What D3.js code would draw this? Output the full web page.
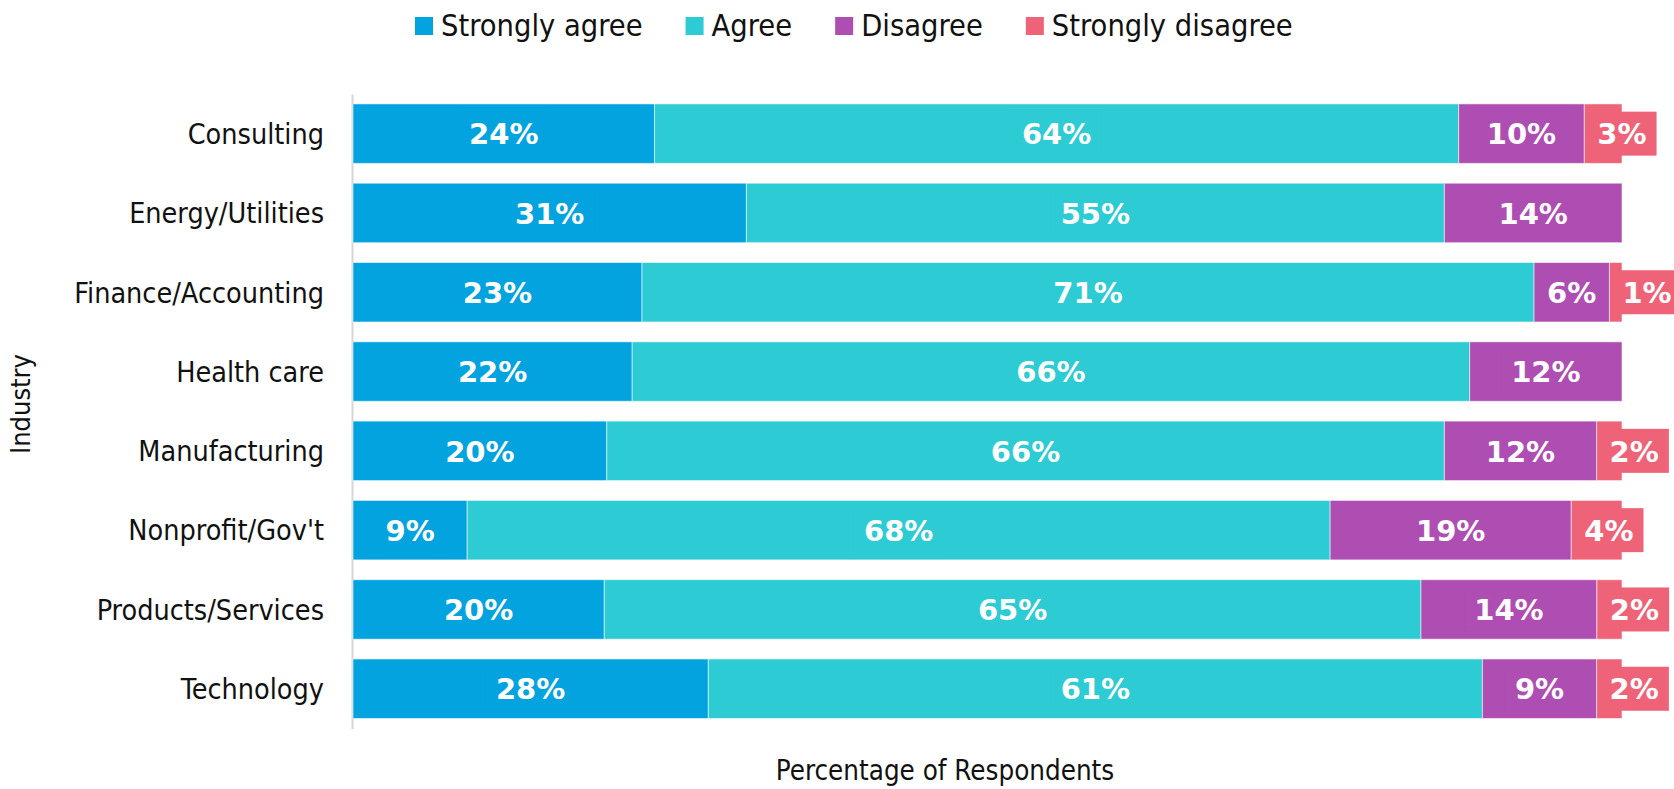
<!DOCTYPE html>
<html><head><meta charset="utf-8">
<script src="https://cdn.jsdelivr.net/npm/d3@7"></script>
<style>body{margin:0;background:#fff} svg{display:block}</style>
</head><body><svg id="c" width="1674" height="789"></svg>
<script>
const categories = ["Consulting","Energy/Utilities","Finance/Accounting","Health care","Manufacturing","Nonprofit/Gov't","Products/Services","Technology"];
const seriesNames = ["Strongly agree","Agree","Disagree","Strongly disagree"];
const stronglyAgree    = [24,31,23,22,20, 9,20,28];
const agree            = [64,55,71,66,66,68,65,61];
const disagree         = [10,14, 6,12,12,19,14, 9];
const stronglyDisagree = [ 3, 0, 1, 0, 2, 4, 2, 2];
const colors = ["#03A3E0","#2DCBD3","#AE4EB2","#EF6378"];
const xTitle = "Percentage of Respondents";
const yTitle = "Industry";

const FONT = "'DejaVu Sans Condensed','DejaVu Sans',sans-serif";
const svg = d3.select("#c");

const rows = categories.map((c,i)=>({cat:c,"Strongly agree":stronglyAgree[i],"Agree":agree[i],"Disagree":disagree[i],"Strongly disagree":stronglyDisagree[i]}));
const stack = d3.stack().keys(seriesNames).offset(d3.stackOffsetExpand);
const series = stack(rows);

const x = d3.scaleLinear().domain([0,1]).range([353,1622]);
const y = d3.scaleBand().domain(categories).range([94,728.4]).paddingInner(0.25).paddingOuter(0.125);
const color = d3.scaleOrdinal().domain(seriesNames).range(colors);

// axis line
const yAxis = d3.axisLeft(y).tickSize(0).tickPadding(28);
const gy = svg.append("g").attr("transform","translate(352,0)").call(yAxis);
gy.select(".domain").attr("stroke","#d6d6d6").attr("stroke-width",2);
gy.selectAll("text").attr("font-family",FONT).attr("font-stretch","condensed").attr("font-size",28.5).attr("fill","#111").attr("dy","0.36em");

// bars
const gs = svg.append("g").selectAll("g").data(series).join("g").attr("fill",d=>color(d.key));
gs.selectAll("rect").data(d=>d.map(v=>({v,key:d.key}))).join("rect")
  .attr("x",d=>x(d.v[0])).attr("width",d=>x(d.v[1])-x(d.v[0]))
  .attr("y",d=>y(d.v.data.cat)).attr("height",y.bandwidth())
  .attr("stroke","rgba(255,255,255,0.55)").attr("stroke-width",1);

// labels
const lg = svg.append("g");
series.forEach(s=>{
  s.forEach(v=>{
    const raw = v.data[s.key];
    if(!raw) return;
    const x0 = x(v[0]), x1 = x(v[1]);
    const cy = y(v.data.cat)+y.bandwidth()/2;
    const g = lg.append("g");
    const bg = g.append("rect").attr("fill",color(s.key));
    const t = g.append("text").text(raw+"%").attr("font-family","'DejaVu Sans',sans-serif")
      .attr("font-weight","bold").attr("font-size",29).attr("fill","#fff")
      .attr("text-anchor","middle").attr("y",cy).attr("dy","0.37em");
    const w = t.node().getComputedTextLength();
    const bw = w+20, bh = 44;
    let cx = (x0+x1)/2;
    if(bw > x1-x0) cx = x0+3+bw/2;
    t.attr("x",cx);
    bg.attr("x",cx-bw/2).attr("y",cy-bh/2).attr("width",bw).attr("height",bh);
  });
});

// legend
let lx = 415;
const leg = svg.append("g");
seriesNames.forEach(n=>{
  leg.append("rect").attr("x",lx).attr("y",17).attr("width",18).attr("height",18).attr("fill",color(n));
  const t = leg.append("text").attr("x",lx+26).attr("y",36).text(n)
    .attr("font-family",FONT).attr("font-stretch","condensed").attr("font-size",30.5).attr("fill","#111");
  lx += 26 + t.node().getComputedTextLength() + 43;
});

// axis titles
svg.append("text").attr("x",945).attr("y",780).attr("text-anchor","middle").text(xTitle)
  .attr("font-family",FONT).attr("font-stretch","condensed").attr("font-size",27.5).attr("fill","#111");
svg.append("text").attr("transform","translate(30,404) rotate(-90)").attr("text-anchor","middle").text(yTitle)
  .attr("font-family",FONT).attr("font-stretch","condensed").attr("font-size",27).attr("fill","#111");
</script></body></html>
